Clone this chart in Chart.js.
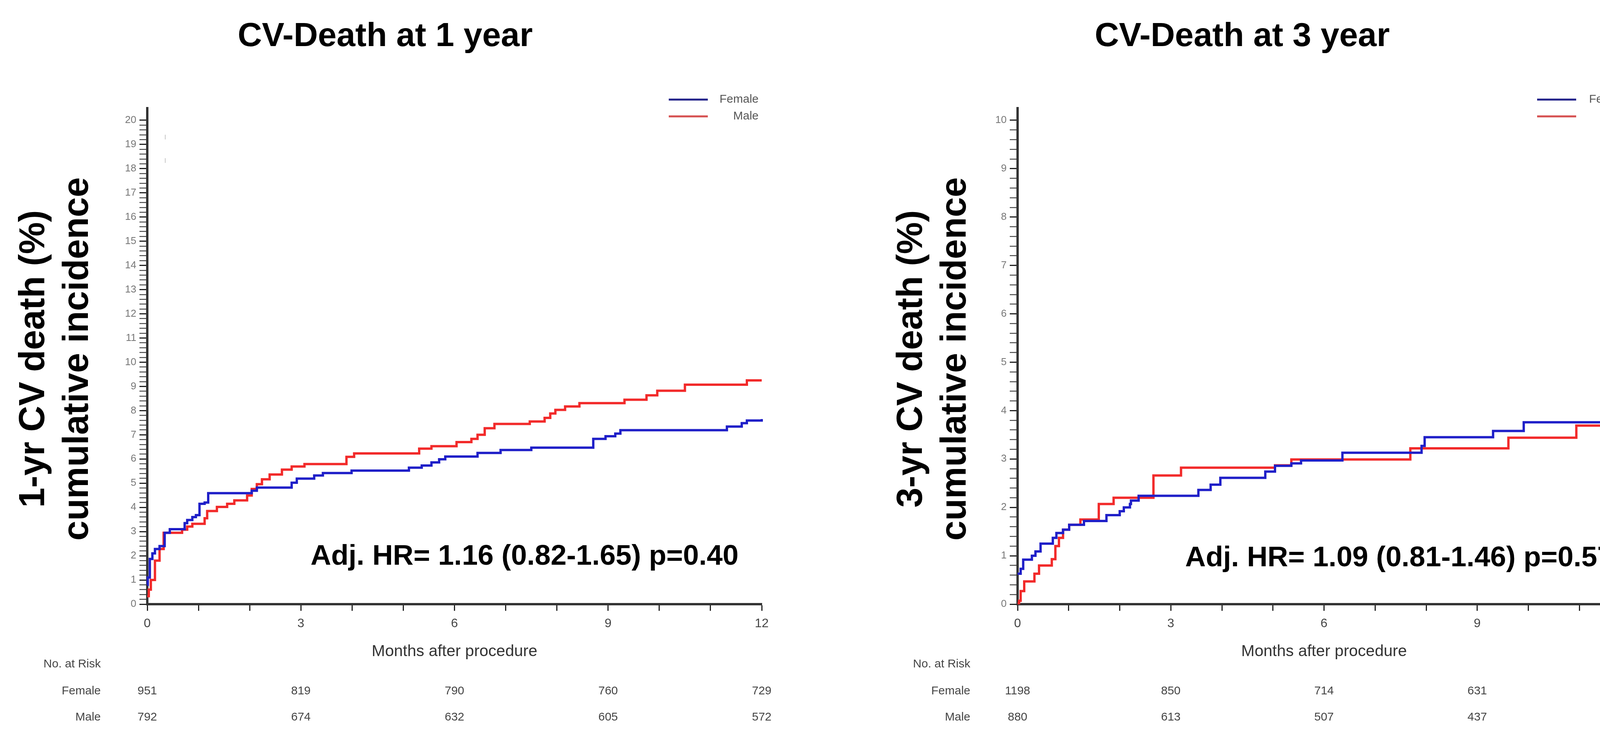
<!DOCTYPE html>
<html>
<head>
<meta charset="utf-8">
<script src="https://cdn.jsdelivr.net/npm/chart.js@4/dist/chart.umd.min.js"></script>
<style>
  html, body { margin: 0; padding: 0; background: #fff; }
  #page { position: relative; width: 4266px; height: 1882px; }
  .panel { position: absolute; top: 0; width: 2133px; height: 1882px; }
</style>
</head>
<body>
<div id="page">
  <div class="panel" style="left:0"><canvas id="cv1" width="2133" height="1882"></canvas></div>
  <div class="panel" style="left:2133px"><canvas id="cv3" width="2133" height="1882"></canvas></div>
</div>
<script>
// ---- data (months, cumulative incidence %) ----
var female1X = [0, 0.01, 0.05, 0.1, 0.15, 0.24, 0.34, 0.44, 0.73, 0.78, 0.88, 0.95, 1.02, 1.12, 1.19, 2.04, 2.14, 2.82, 2.92, 3.26, 3.43, 3.99, 5.11, 5.36, 5.55, 5.70, 5.82, 6.45, 6.90, 7.5, 8.71, 8.95, 9.14, 9.24, 11.32, 11.61, 11.71, 12];
var female1Y = [0.8, 1.1, 1.87, 2.1, 2.28, 2.4, 2.95, 3.1, 3.35, 3.48, 3.6, 3.68, 4.15, 4.2, 4.59, 4.69, 4.82, 5.02, 5.19, 5.32, 5.42, 5.52, 5.64, 5.73, 5.86, 5.99, 6.1, 6.25, 6.37, 6.47, 6.83, 6.94, 7.05, 7.19, 7.34, 7.48, 7.59, 7.65];
var male1X = [0, 0.03, 0.07, 0.15, 0.24, 0.32, 0.68, 0.78, 0.88, 1.12, 1.17, 1.36, 1.56, 1.70, 1.95, 2.04, 2.14, 2.24, 2.39, 2.63, 2.82, 3.07, 3.89, 4.04, 5.31, 5.55, 6.04, 6.33, 6.45, 6.59, 6.78, 7.47, 7.76, 7.87, 7.97, 8.16, 8.44, 9.32, 9.75, 9.96, 10.5, 11.71, 12];
var male1Y = [0.33, 0.6, 1.0, 1.8, 2.28, 2.95, 3.08, 3.21, 3.32, 3.55, 3.85, 4.02, 4.15, 4.29, 4.49, 4.76, 4.96, 5.16, 5.36, 5.56, 5.69, 5.79, 6.09, 6.23, 6.43, 6.53, 6.7, 6.83, 7.0, 7.27, 7.45, 7.55, 7.70, 7.88, 8.03, 8.17, 8.31, 8.45, 8.63, 8.82, 9.07, 9.25, 9.25];

var female3X = [0, 0.06, 0.11, 0.28, 0.35, 0.45, 0.69, 0.76, 0.89, 1.01, 1.30, 1.74, 2.0, 2.08, 2.2, 2.22, 2.37, 3.54, 3.78, 3.97, 4.85, 5.04, 5.36, 5.55, 6.36, 7.91, 7.97, 9.31, 9.91, 12];
var female3Y = [0.63, 0.73, 0.92, 1.0, 1.09, 1.25, 1.37, 1.47, 1.54, 1.64, 1.72, 1.84, 1.92, 2.0, 2.07, 2.14, 2.24, 2.36, 2.47, 2.61, 2.74, 2.86, 2.91, 2.97, 3.13, 3.27, 3.45, 3.58, 3.76, 3.76];
var male3X = [0, 0.03, 0.06, 0.13, 0.33, 0.42, 0.67, 0.74, 0.81, 0.89, 1.01, 1.23, 1.59, 1.88, 2.66, 3.2, 5.04, 5.36, 7.69, 9.61, 10.94, 12];
var male3Y = [0.02, 0.07, 0.27, 0.47, 0.63, 0.80, 0.93, 1.2, 1.37, 1.54, 1.64, 1.75, 2.07, 2.2, 2.66, 2.82, 2.87, 2.99, 3.22, 3.44, 3.69, 3.69];

var riskTimes = [0, 3, 6, 9, 12];
var riskFemale1 = [951, 819, 790, 760, 729];
var riskMale1 = [792, 674, 632, 605, 572];
var riskFemale3 = [1198, 850, 714, 631, 528];
var riskMale3 = [880, 613, 507, 437, 356];

var seriesNames = ["Female", "Male"];
var blue = "#1f1fc8";
var red = "#f22a2a";
var boldFont = "'Liberation Sans', Arial, sans-serif";

function pts(xs, ys) {
    return xs.map(function (x, i) { return { x: x, y: ys[i] }; });
}

function isWhole(v) { return Math.abs(v - Math.round(v)) < 1e-6; }

var panelText = {
    id: 'panelText',
    afterDraw: function (chart, args, o) {
        var ctx = chart.ctx;
        var xs = chart.scales.x;
        ctx.save();
        ctx.fillStyle = '#000';
        // title
        ctx.font = 'bold 86px ' + boldFont;
        ctx.textAlign = 'center';
        ctx.textBaseline = 'alphabetic';
        ctx.fillText(o.title, o.titleX, 118);
        // y title, two rotated lines
        ctx.font = 'bold 92px ' + boldFont;
        o.yTitle.forEach(function (line, i) {
            ctx.save();
            ctx.translate(o.yTitleX[i], 919);
            ctx.rotate(-Math.PI / 2);
            ctx.fillText(line, 0, 0);
            ctx.restore();
        });
        // hazard ratio note
        ctx.font = 'bold 73px ' + boldFont;
        ctx.textAlign = 'left';
        ctx.fillText(o.note, o.noteX, o.noteY);
        // legend
        ctx.lineWidth = 5;
        ctx.font = '30px ' + boldFont;
        ctx.textAlign = 'right';
        ctx.textBaseline = 'middle';
        [['#22228a', 255], ['#d65050', 298]].forEach(function (it, i) {
            ctx.strokeStyle = it[0];
            ctx.beginPath();
            ctx.moveTo(o.legendX, it[1]);
            ctx.lineTo(o.legendX + 100, it[1]);
            ctx.stroke();
            ctx.fillStyle = '#555';
            ctx.fillText(seriesNames[i], o.legendTextRight, it[1]);
        });
        // x title
        ctx.fillStyle = '#333';
        ctx.textAlign = 'center';
        ctx.font = '41px ' + boldFont;
        ctx.fillText('Months after procedure', xs.getPixelForValue(6), 1669);
        // numbers at risk
        ctx.font = '30px ' + boldFont;
        ctx.fillStyle = '#444';
        ctx.textAlign = 'right';
        ctx.fillText('No. at Risk', o.riskLabelRight, 1701);
        ctx.fillText('Female', o.riskLabelRight, 1770);
        ctx.fillText('Male', o.riskLabelRight, 1837);
        ctx.textAlign = 'center';
        riskTimes.forEach(function (t, i) {
            var px = xs.getPixelForValue(t);
            ctx.fillText(String(o.riskF[i]), px, 1770);
            ctx.fillText(String(o.riskM[i]), px, 1837);
        });
        if (o.marks) {
            ctx.strokeStyle = '#c8c8c8';
            ctx.lineWidth = 2;
            o.marks.forEach(function (m) {
                ctx.beginPath();
                ctx.moveTo(m[0], m[1]);
                ctx.lineTo(m[0], m[1] + 12);
                ctx.stroke();
            });
        }
        ctx.restore();
    }
};

function makeChart(id, cfg) {
    var yStep = 0.2;
    return new Chart(document.getElementById(id), {
        type: 'line',
        data: {
            datasets: [
                { label: seriesNames[0], data: pts(cfg.fx, cfg.fy), borderColor: blue, borderWidth: 6, pointRadius: 0, stepped: true, clip: 6 },
                { label: seriesNames[1], data: pts(cfg.mx, cfg.my), borderColor: red, borderWidth: 6, pointRadius: 0, stepped: true, clip: 6 }
            ]
        },
        options: {
            responsive: false,
            devicePixelRatio: 1,
            animation: false,
            layout: { padding: { left: 0, right: cfg.padRight, top: 277, bottom: 0 } },
            plugins: {
                legend: { display: false },
                tooltip: { enabled: false },
                panelText: cfg.text
            },
            scales: {
                x: {
                    type: 'linear', min: 0, max: 12,
                    afterBuildTicks: function (s) {
                        var t = [];
                        for (var m = 0; m <= 12; m++) t.push({ value: m });
                        s.ticks = t;
                    },
                    afterFit: function (s) { s.height = 335; },
                    border: { display: true, color: '#333', width: 6 },
                    grid: { drawOnChartArea: false, drawTicks: true, tickLength: 17, tickColor: '#222', tickWidth: 3 },
                    ticks: {
                        autoSkip: false, maxRotation: 0, padding: 14, color: '#444',
                        font: { family: boldFont, size: 32 },
                        callback: function (v) { return v % 3 === 0 ? String(v) : ''; }
                    }
                },
                y: {
                    type: 'linear', min: 0, max: cfg.yMax,
                    afterBuildTicks: function (s) {
                        var t = [];
                        for (var k = 0; k <= cfg.yTop / yStep + 1e-6; k++) t.push({ value: Math.round(k * yStep * 10) / 10 });
                        s.ticks = t;
                    },
                    afterFit: function (s) { s.width = cfg.yWidth; },
                    border: { display: true, color: '#333', width: 6 },
                    grid: {
                        drawOnChartArea: false, drawTicks: true, tickLength: 20, tickColor: '#222',
                        tickWidth: function (c) { return c.tick && isWhole(c.tick.value) ? 3 : 2; }
                    },
                    ticks: {
                        autoSkip: false, padding: 8, color: '#777',
                        font: { family: boldFont, size: 26 },
                        callback: function (v) { return isWhole(v) ? String(Math.round(v)) : ''; }
                    }
                }
            }
        },
        plugins: [panelText]
    });
}

makeChart('cv1', {
    fx: female1X, fy: female1Y, mx: male1X, my: male1Y,
    yMax: 20.5, yTop: 20, yWidth: 377, padRight: 183,
    text: {
        title: 'CV-Death at 1 year', titleX: 986,
        yTitle: ['1-yr CV death (%)', 'cumulative incidence'], yTitleX: [113, 225],
        note: 'Adj. HR= 1.16 (0.82-1.65) p=0.40', noteX: 795, noteY: 1446,
        legendX: 1712, legendTextRight: 1942,
        riskLabelRight: 258, riskF: riskFemale1, riskM: riskMale1,
        marks: [[423, 345], [423, 405]]
    }
});

makeChart('cv3', {
    fx: female3X, fy: female3Y, mx: male3X, my: male3Y,
    yMax: 10.25, yTop: 10, yWidth: 472, padRight: 92,
    text: {
        title: 'CV-Death at 3 year', titleX: 1047,
        yTitle: ['3-yr CV death (%)', 'cumulative incidence'], yTitleX: [227, 339],
        note: 'Adj. HR= 1.09 (0.81-1.46) p=0.57', noteX: 901, noteY: 1450,
        legendX: 1802, legendTextRight: 2035,
        riskLabelRight: 351, riskF: riskFemale3, riskM: riskMale3
    }
});
</script>
</body>
</html>
